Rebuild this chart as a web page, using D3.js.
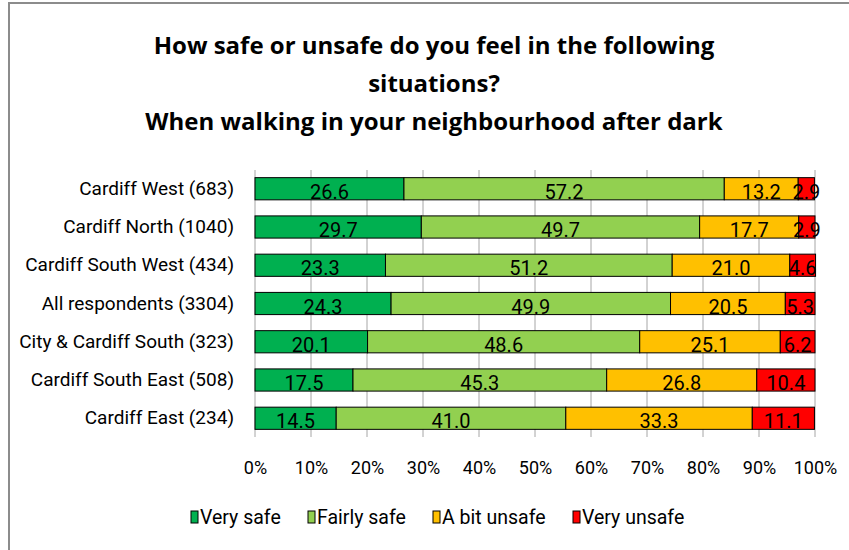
<!DOCTYPE html>
<html>
<head>
<meta charset="utf-8">
<script src="https://cdn.jsdelivr.net/npm/d3@7"></script>
<style>
  body { margin: 0; background: #fff; }
  text { font-family: Roboto, "Open Sans", sans-serif; fill: #000; }
  .title { font-family: "Open Sans", sans-serif; font-weight: bold; font-size: 24px; }
</style>
</head>
<body>
<div id="chart"></div>
<script>
// data
const areas = [
    "Cardiff West (683)",
    "Cardiff North (1040)",
    "Cardiff South West (434)",
    "All respondents (3304)",
    "City & Cardiff South (323)",
    "Cardiff South East (508)",
    "Cardiff East (234)"
];
const series = ["Very safe", "Fairly safe", "A bit unsafe", "Very unsafe"];
const verySafe   = [26.6, 29.7, 23.3, 24.3, 20.1, 17.5, 14.5];
const fairlySafe = [57.2, 49.7, 51.2, 49.9, 48.6, 45.3, 41.0];
const bitUnsafe  = [13.2, 17.7, 21.0, 20.5, 25.1, 26.8, 33.3];
const veryUnsafe = [2.9, 2.9, 4.6, 5.3, 6.2, 10.4, 11.1];
const ticks = [0, 10, 20, 30, 40, 50, 60, 70, 80, 90, 100];
const colors = ["#00b050", "#92d050", "#ffc000", "#ff0000"];
const titleLines = [
    "How safe or unsafe do you feel in the following",
    "situations?",
    "When walking in your neighbourhood after dark"
];

// svg size
const width = 849;
const height = 550;
const margin = { top: 170, right: 34, bottom: 113, left: 255 };
const chartWidth = width - margin.left - margin.right;
const chartHeight = height - margin.top - margin.bottom;

const svg = d3.select("#chart").append("svg")
    .attr("width", width)
    .attr("height", height);

// frame
svg.append("path")
    .attr("d", `M9,${height} V3 H${width}`)
    .attr("fill", "none")
    .attr("stroke", "#8c8c8c")
    .attr("stroke-width", 2);

// title
svg.append("g").selectAll("text")
    .data(titleLines)
    .enter()
    .append("text")
    .classed("title", true)
    .attr("x", 434)
    .attr("y", (d, i) => [54, 92, 130][i])
    .attr("text-anchor", "middle")
    .text(d => d);

const chartGroup = svg.append("g")
    .attr("transform", `translate(${margin.left}, ${margin.top})`);

// scales
const x = d3.scaleLinear().domain([0, 100]).range([0, chartWidth]);
const y = d3.scaleBand().domain(areas).range([0, chartHeight]).paddingInner(0.42).paddingOuter(0.2);

// gridlines
chartGroup.append("g").selectAll("line")
    .data(ticks)
    .enter()
    .append("line")
    .attr("x1", d => x(d))
    .attr("x2", d => x(d))
    .attr("y1", 0)
    .attr("y2", chartHeight)
    .attr("stroke", "#a6a6a6")
    .attr("stroke-width", 1);

// x axis labels
const bottomAxis = d3.axisBottom(x).tickValues(ticks).tickFormat(d => d + "%").tickSize(0).tickPadding(24);
const xAxis = chartGroup.append("g")
    .attr("transform", `translate(0, ${chartHeight})`)
    .call(bottomAxis);
xAxis.select(".domain").remove();
xAxis.selectAll("text")
    .style("font-family", "Roboto, sans-serif")
    .style("font-size", "18px")
    .attr("fill", "#000");

// y axis labels
const leftAxis = d3.axisLeft(y).tickSize(0).tickPadding(21);
const yAxis = chartGroup.append("g").call(leftAxis);
yAxis.select(".domain").remove();
yAxis.selectAll("text")
    .style("font-family", "Roboto, sans-serif")
    .style("font-size", "19px")
    .attr("fill", "#000");

// stacked data
const table = areas.map((a, i) => ({
    area: a,
    "Very safe": verySafe[i],
    "Fairly safe": fairlySafe[i],
    "A bit unsafe": bitUnsafe[i],
    "Very unsafe": veryUnsafe[i]
}));
const stacked = d3.stack().keys(series)(table);

const layers = chartGroup.selectAll(".layer")
    .data(stacked)
    .enter()
    .append("g")
    .attr("fill", (d, i) => colors[i]);

layers.selectAll("rect")
    .data(d => d)
    .enter()
    .append("rect")
    .attr("x", d => x(d[0]))
    .attr("width", d => x(d[1]) - x(d[0]))
    .attr("y", d => y(d.data.area))
    .attr("height", y.bandwidth())
    .attr("stroke", "#000")
    .attr("stroke-width", 1);

// value labels
layers.selectAll("text")
    .data(d => d.map(v => ({ v: v, key: d.key })))
    .enter()
    .append("text")
    .attr("x", d => (x(d.v[0]) + x(d.v[1])) / 2)
    .attr("y", d => y(d.v.data.area) + y.bandwidth() - 1)
    .attr("text-anchor", "middle")
    .style("font-size", "20px")
    .text(d => d.v.data[d.key].toFixed(1));

// legend
const legendX = [191, 308, 433, 573];
const legend = svg.append("g").selectAll("g")
    .data(series)
    .enter()
    .append("g")
    .attr("transform", (d, i) => `translate(${legendX[i]}, 511)`);
legend.append("rect")
    .attr("width", 7)
    .attr("height", 12)
    .attr("fill", (d, i) => colors[i])
    .attr("stroke", "#000")
    .attr("stroke-width", 1);
legend.append("text")
    .attr("x", 9)
    .attr("y", 13)
    .style("font-size", "19.5px")
    .text(d => d);
</script>
</body>
</html>
